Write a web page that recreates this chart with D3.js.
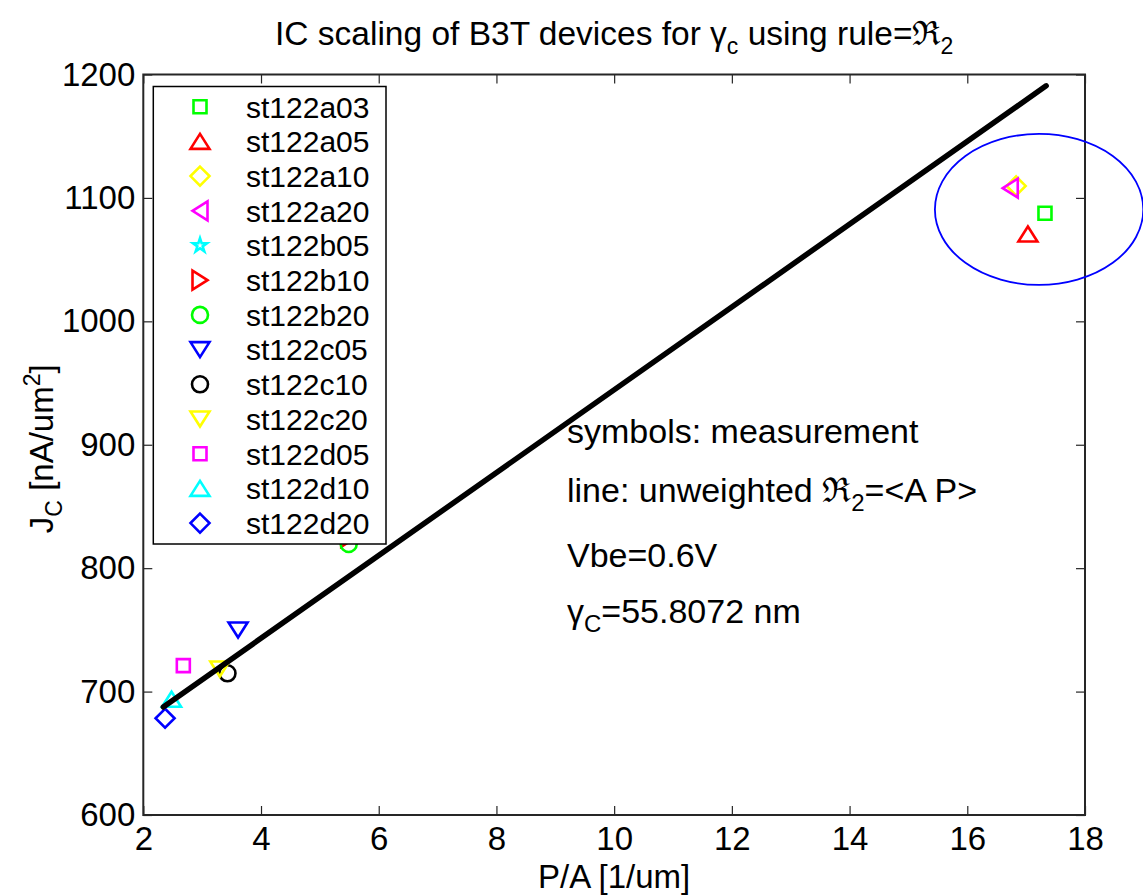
<!DOCTYPE html>
<html>
<head>
<meta charset="utf-8">
<script src="https://cdn.jsdelivr.net/npm/d3@7"></script>
<style>
  html, body { margin: 0; padding: 0; background: #fff; }
  svg text { font-family: "Liberation Sans", Arial, Helvetica, sans-serif; fill: #000; }
</style>
</head>
<body>
<div id="chart"></div>
<script>
// IC scaling of B3T devices: measured J_C against P/A, with the unweighted fit line.

const DEVICES = ['st122a03', 'st122a05', 'st122a10', 'st122a20', 'st122b05', 'st122b10', 'st122b20',
  'st122c05', 'st122c10', 'st122c20', 'st122d05', 'st122d10', 'st122d20'];
const PA_VALUES = [17.32, 17.03, 16.83, 16.73, 5.46, 5.49, 5.49, 3.61, 3.43, 3.30, 2.68, 2.48, 2.37];
const JC_VALUES = [1087.6, 1070.8, 1109.7, 1107.9, 829, 825, 819.6, 749.9, 714.8, 718.3, 721.0, 693.8, 678.4];

const FIT_PA = [2.34, 17.34];
const FIT_JC = [687.5, 1190.8];

const X_TICKS = [2, 4, 6, 8, 10, 12, 14, 16, 18];
const Y_TICKS = [600, 700, 800, 900, 1000, 1100, 1200];

// outlier group circled on the plot (data units)
const HIGHLIGHT_CENTER = [17.22, 1090.7];
const HIGHLIGHT_RADII = [1.77, 61.2];

const MARKERS = ['square', 'up', 'diamond', 'left', 'star', 'right', 'circle',
  'down', 'circle', 'down', 'square', 'up', 'diamond'];
const COLOURS = ['#00ff00', '#ff0000', '#ffff00', '#ff00ff', '#00ffff', '#ff0000', '#00ff00',
  '#0000ff', '#000000', '#ffff00', '#ff00ff', '#00ffff', '#0000ff'];

function markerPath(kind) {
  switch (kind) {
    case 'square': return 'M-6.5,-6.5h13v13h-13Z';
    case 'up': return 'M0,-7.5L9.5,7.5L-9.5,7.5Z';
    case 'down': return 'M0,7.5L9.5,-7.5L-9.5,-7.5Z';
    case 'left': return 'M-7.5,0L7.5,-9.5L7.5,9.5Z';
    case 'right': return 'M7.5,0L-7.5,-9.5L-7.5,9.5Z';
    case 'diamond': return 'M0,-9.5L9.5,0L0,9.5L-9.5,0Z';
    case 'circle': return d3.symbol(d3.symbolCircle).size(Math.PI * 64)();
    case 'star': return d3.symbol(d3.symbolStar).size(60)();
    default: return '';
  }
}

const width = 1143;
const height = 896;
const margin = { top: 74.5, right: 58, bottom: 81, left: 143.3 };
const plotW = width - margin.left - margin.right;
const plotH = height - margin.top - margin.bottom;
const frameColour = '#262626';

const x = d3.scaleLinear().domain([2, 18]).range([0, plotW]);
const y = d3.scaleLinear().domain([600, 1200]).range([plotH, 0]);

const svg = d3.select('#chart')
  .append('svg')
  .attr('width', width)
  .attr('height', height);

const g = svg.append('g').attr('transform', `translate(${margin.left},${margin.top})`);

// axes, ticks inward on all four sides
function styleAxis(sel) {
  sel.select('.domain').remove();
  sel.selectAll('line').attr('stroke', frameColour).attr('stroke-width', 1.2);
  sel.selectAll('text').attr('font-size', 33).attr('fill', '#000')
    .attr('font-family', '"Liberation Sans", Arial, Helvetica, sans-serif');
}

g.append('g')
  .attr('transform', `translate(0,${plotH})`)
  .call(d3.axisBottom(x).tickValues(X_TICKS).tickSizeInner(-9).tickSizeOuter(0).tickPadding(12)
    .tickFormat(d3.format('d')))
  .call(styleAxis);

g.append('g')
  .call(d3.axisTop(x).tickValues(X_TICKS).tickSizeInner(-9).tickSizeOuter(0).tickFormat(''))
  .call(styleAxis);

g.append('g')
  .call(d3.axisLeft(y).tickValues(Y_TICKS).tickSizeInner(-9).tickSizeOuter(0).tickPadding(8)
    .tickFormat(d3.format('d')))
  .call(styleAxis);

g.append('g')
  .attr('transform', `translate(${plotW},0)`)
  .call(d3.axisRight(y).tickValues(Y_TICKS).tickSizeInner(-9).tickSizeOuter(0).tickFormat(''))
  .call(styleAxis);

g.append('rect')
  .attr('width', plotW)
  .attr('height', plotH)
  .attr('fill', 'none')
  .attr('stroke', frameColour)
  .attr('stroke-width', 2);

// measurements
g.selectAll('path.marker')
  .data(DEVICES)
  .join('path')
  .attr('class', 'marker')
  .attr('transform', (d, i) => `translate(${x(PA_VALUES[i])},${y(JC_VALUES[i])})`)
  .attr('d', (d, i) => markerPath(MARKERS[i]))
  .attr('fill', 'none')
  .attr('stroke', (d, i) => COLOURS[i])
  .attr('stroke-width', 2.6);

// fit line
g.append('path')
  .datum(FIT_PA.map((p, i) => [p, FIT_JC[i]]))
  .attr('fill', 'none')
  .attr('stroke', '#000')
  .attr('stroke-width', 5.5)
  .attr('stroke-linecap', 'round')
  .attr('d', d3.line().x((d) => x(d[0])).y((d) => y(d[1])));

// highlight ellipse (not clipped to the axes)
g.append('ellipse')
  .attr('cx', x(HIGHLIGHT_CENTER[0]))
  .attr('cy', y(HIGHLIGHT_CENTER[1]))
  .attr('rx', x(HIGHLIGHT_CENTER[0] + HIGHLIGHT_RADII[0]) - x(HIGHLIGHT_CENTER[0]))
  .attr('ry', y(HIGHLIGHT_CENTER[1]) - y(HIGHLIGHT_CENTER[1] + HIGHLIGHT_RADII[1]))
  .attr('fill', 'none')
  .attr('stroke', '#0000ff')
  .attr('stroke-width', 1.8);

// annotations
const notes = svg.append('g').attr('font-size', 34);
notes.append('text').attr('x', 567).attr('y', 443).text('symbols: measurement');
const l2 = notes.append('text').attr('x', 567).attr('y', 502);
l2.append('tspan').text('line: unweighted \u211C');
l2.append('tspan').attr('font-size', 24).attr('dy', 9).text('2');
l2.append('tspan').attr('dy', -9).text('=<A P>');
notes.append('text').attr('x', 567).attr('y', 567).text('Vbe=0.6V');
const l4 = notes.append('text').attr('x', 567).attr('y', 623);
l4.append('tspan').text('\u03B3');
l4.append('tspan').attr('font-size', 24).attr('dy', 9).text('C');
l4.append('tspan').attr('dy', -9).text('=55.8072 nm');

// title
const title = svg.append('text')
  .attr('x', margin.left + plotW / 2)
  .attr('y', 45)
  .attr('text-anchor', 'middle')
  .attr('font-size', 33.5);
title.append('tspan').text('IC scaling of B3T devices for \u03B3');
title.append('tspan').attr('font-size', 23).attr('dy', 9).text('c');
title.append('tspan').attr('dy', -9).text(' using rule=\u211C');
title.append('tspan').attr('font-size', 23).attr('dy', 9).text('2');

// axis labels
svg.append('text')
  .attr('x', margin.left + plotW / 2)
  .attr('y', 888)
  .attr('text-anchor', 'middle')
  .attr('font-size', 33)
  .text('P/A [1/um]');

const yl = svg.append('text')
  .attr('transform', `translate(53,${margin.top + plotH / 2 + 4}) rotate(-90)`)
  .attr('text-anchor', 'middle')
  .attr('font-size', 33);
yl.append('tspan').text('J');
yl.append('tspan').attr('font-size', 23).attr('dy', 9).text('C');
yl.append('tspan').attr('dy', -9).text(' [nA/um');
yl.append('tspan').attr('font-size', 23).attr('dy', -13).text('2');
yl.append('tspan').attr('dy', 13).text(']');

// legend
const legendX = 153.3;
const legendY = 86.5;
const rowGap = 34.7;
const legend = svg.append('g').attr('transform', `translate(${legendX},${legendY})`);
legend.append('rect')
  .attr('width', 232.7)
  .attr('height', 457.5)
  .attr('fill', '#fff')
  .attr('stroke', '#000')
  .attr('stroke-width', 1.5);

const rows = legend.selectAll('g.row')
  .data(DEVICES)
  .join('g')
  .attr('class', 'row')
  .attr('transform', (d, i) => `translate(0,${20.2 + i * rowGap})`);

rows.append('path')
  .attr('transform', 'translate(46.7,0)')
  .attr('d', (d, i) => markerPath(MARKERS[i]))
  .attr('fill', 'none')
  .attr('stroke', (d, i) => COLOURS[i])
  .attr('stroke-width', 2.6);

rows.append('text')
  .attr('x', 92.7)
  .attr('dy', '0.36em')
  .attr('font-size', 30)
  .text((d) => d);
</script>
</body>
</html>
